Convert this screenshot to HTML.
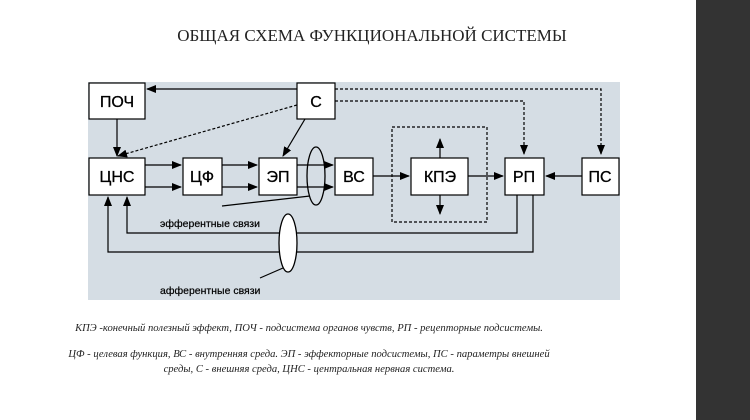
<!DOCTYPE html>
<html><head><meta charset="utf-8"><style>
html,body{margin:0;padding:0;background:#fff;}
svg{display:block;}
</style></head><body>
<svg width="750" height="420" viewBox="0 0 750 420" xmlns="http://www.w3.org/2000/svg">
<defs>
<marker id="a" markerWidth="10" markerHeight="8" refX="9" refY="4" orient="auto" markerUnits="userSpaceOnUse"><path d="M0,0 L10,4 L0,8 z" fill="#000"/></marker>
</defs>
<rect x="0" y="0" width="750" height="420" fill="#fff"/>
<rect x="696" y="0" width="54" height="420" fill="#333"/>
<text x="372" y="41" text-anchor="middle" font-family="Liberation Serif, serif" font-size="17" fill="#222">ОБЩАЯ СХЕМА ФУНКЦИОНАЛЬНОЙ СИСТЕМЫ</text>
<rect x="88" y="82" width="532" height="218" fill="#d5dde4"/>
<g stroke="#000" stroke-width="1.2" fill="none">
<path d="M335,89 H601 V154" stroke-dasharray="3,2" marker-end="url(#a)"/>
<path d="M335,101 H524 V154" stroke-dasharray="3,2" marker-end="url(#a)"/>
<path d="M297,105 L118,156" stroke-dasharray="3,2" marker-end="url(#a)"/>
<rect x="392" y="127" width="95" height="95" stroke-dasharray="3,2"/>
<path d="M297,89 H147" marker-end="url(#a)"/>
<path d="M117,119 V156" marker-end="url(#a)"/>
<path d="M305,119 L283,156" marker-end="url(#a)"/>
<path d="M145,165 H181" marker-end="url(#a)"/>
<path d="M145,187 H181" marker-end="url(#a)"/>
<path d="M222,165 H257" marker-end="url(#a)"/>
<path d="M222,187 H257" marker-end="url(#a)"/>
<path d="M297,165 H333" marker-end="url(#a)"/>
<path d="M297,187 H333" marker-end="url(#a)"/>
<path d="M373,176 H409" marker-end="url(#a)"/>
<path d="M468,176 H503" marker-end="url(#a)"/>
<path d="M582,176 H546" marker-end="url(#a)"/>
<path d="M440,158 V139" marker-end="url(#a)"/>
<path d="M440,195 V214" marker-end="url(#a)"/>
<path d="M517,195 V233 H127 V197" marker-end="url(#a)"/>
<path d="M533,195 V252 H108 V197" marker-end="url(#a)"/>
<path d="M222,206 L310,196"/>
<path d="M260,278 L283,268"/>
</g>
<ellipse cx="316" cy="176" rx="9" ry="29" fill="none" stroke="#000" stroke-width="1.3"/>
<ellipse cx="288" cy="243" rx="9" ry="29" fill="#fff" stroke="#000" stroke-width="1.3"/>
<g fill="#fff" stroke="#000" stroke-width="1.2">
<rect x="89" y="83" width="56" height="36"/>
<rect x="297" y="83" width="38" height="36"/>
<rect x="89" y="158" width="56" height="37"/>
<rect x="183" y="158" width="39" height="37"/>
<rect x="259" y="158" width="38" height="37"/>
<rect x="335" y="158" width="38" height="37"/>
<rect x="411" y="158" width="57" height="37"/>
<rect x="505" y="158" width="39" height="37"/>
<rect x="582" y="158" width="37" height="37"/>
</g>
<g font-family="Liberation Sans, sans-serif" font-size="16" text-anchor="middle" fill="#000" stroke="#000" stroke-width="0.3">
<text x="117" y="107">ПОЧ</text>
<text x="316" y="107">С</text>
<text x="117" y="182">ЦНС</text>
<text x="202" y="182">ЦФ</text>
<text x="278" y="182">ЭП</text>
<text x="354" y="182">ВС</text>
<text x="440" y="182">КПЭ</text>
<text x="524" y="182">РП</text>
<text x="600" y="182">ПС</text>
</g>
<g font-family="Liberation Sans, sans-serif" font-size="10.5" fill="#000" stroke="#000" stroke-width="0.2">
<text x="160" y="227">эфферентные связи</text>
<text x="160" y="294">афферентные связи</text>
</g>
<g font-family="Liberation Serif, serif" font-style="italic" font-size="10.6" fill="#222" text-anchor="middle">
<text x="309" y="331">КПЭ -конечный полезный эффект, ПОЧ - подсистема органов чувств, РП - рецепторные подсистемы.</text>
<text x="309" y="357">ЦФ - целевая функция, ВС - внутренняя среда. ЭП - эффекторные подсистемы, ПС - параметры внешней</text>
<text x="309" y="372">среды, С - внешняя среда, ЦНС - центральная нервная система.</text>
</g>
</svg>
</body></html>
